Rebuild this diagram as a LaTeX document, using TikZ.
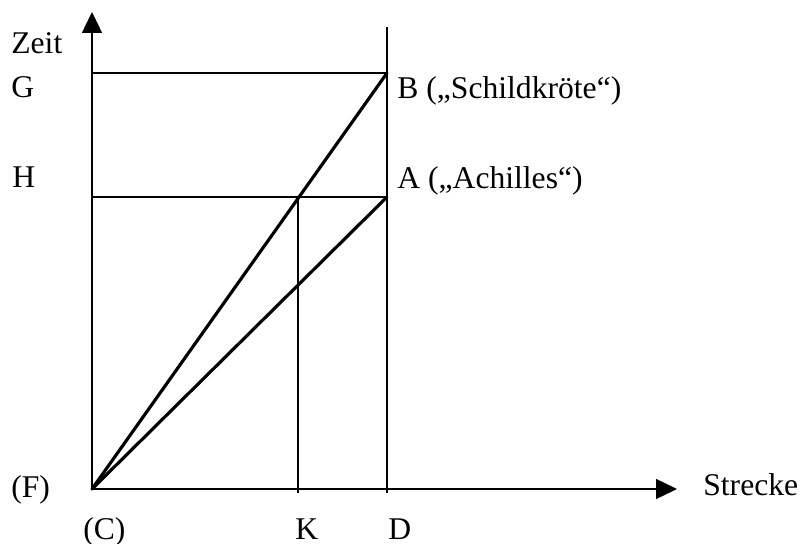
\documentclass[tikz,border=0pt]{standalone}
\usepackage{fontspec}
\setmainfont{Liberation Serif}
\usetikzlibrary{arrows.meta}
\tikzset{
  thinline/.style={line width=0.7pt,draw=black},
  thickline/.style={line width=1.8pt,draw=black,line cap=round},
  axisarr/.style={-{Triangle[length=4.2mm,width=4mm]},line width=0.8pt,
                  draw=black},
  lbl/.style={anchor=base west,inner sep=0pt,
              font=\fontsize{18}{21}\selectfont}
}

\begin{document}
\begin{tikzpicture}[x=0.02cm,y=-0.02cm]
    \path[use as bounding box] (0,0) rectangle (801,544);
    % points of the diagram
    \coordinate (C) at (92,489);
    \coordinate (Ytip) at (92,12);
    \coordinate (Xtip) at (677,489);
    \coordinate (G) at (92,73);
    \coordinate (H) at (92,197);
    \coordinate (B) at (387,73);
    \coordinate (A) at (387,197);
    \coordinate (Ktop) at (298,197);
    \coordinate (Kfoot) at (298,493);
    \coordinate (Dtop) at (387,27);
    \coordinate (Dfoot) at (387,493);
    % axes
    \draw[axisarr] (C) -- (Ytip);
    \draw[axisarr] (C) -- (Xtip);
    % thin guide lines
    \draw[thinline] (G) -- (B);
    \draw[thinline] (H) -- (A);
    \draw[thinline] (Dtop) -- (Dfoot);
    \draw[thinline] (Ktop) -- (Kfoot);
    % the two runners
    \draw[thickline] (C) -- (B);
    \draw[thickline] (C) -- (A);
    % labels
    \node[lbl] (zeit) at (11,54) {Zeit};
    \node[lbl] (labG) at (11,98) {G};
    \node[lbl] (labH) at (12,187) {H};
    \node[lbl] (labF) at (11,497) {(F)};
    \node[lbl] (labC) at (83,539) {(C)};
    \node[lbl] (labK) at (295,539) {K};
    \node[lbl] (labD) at (388,539) {D};
    \node[lbl] (strecke) at (703,495) {Strecke};
    \node[lbl] (labB) at (397,99) {B („Schildkröte“)};
    \node[lbl] (labA) at (397,188) {A („Achilles“)};
\end{tikzpicture}
\end{document}
